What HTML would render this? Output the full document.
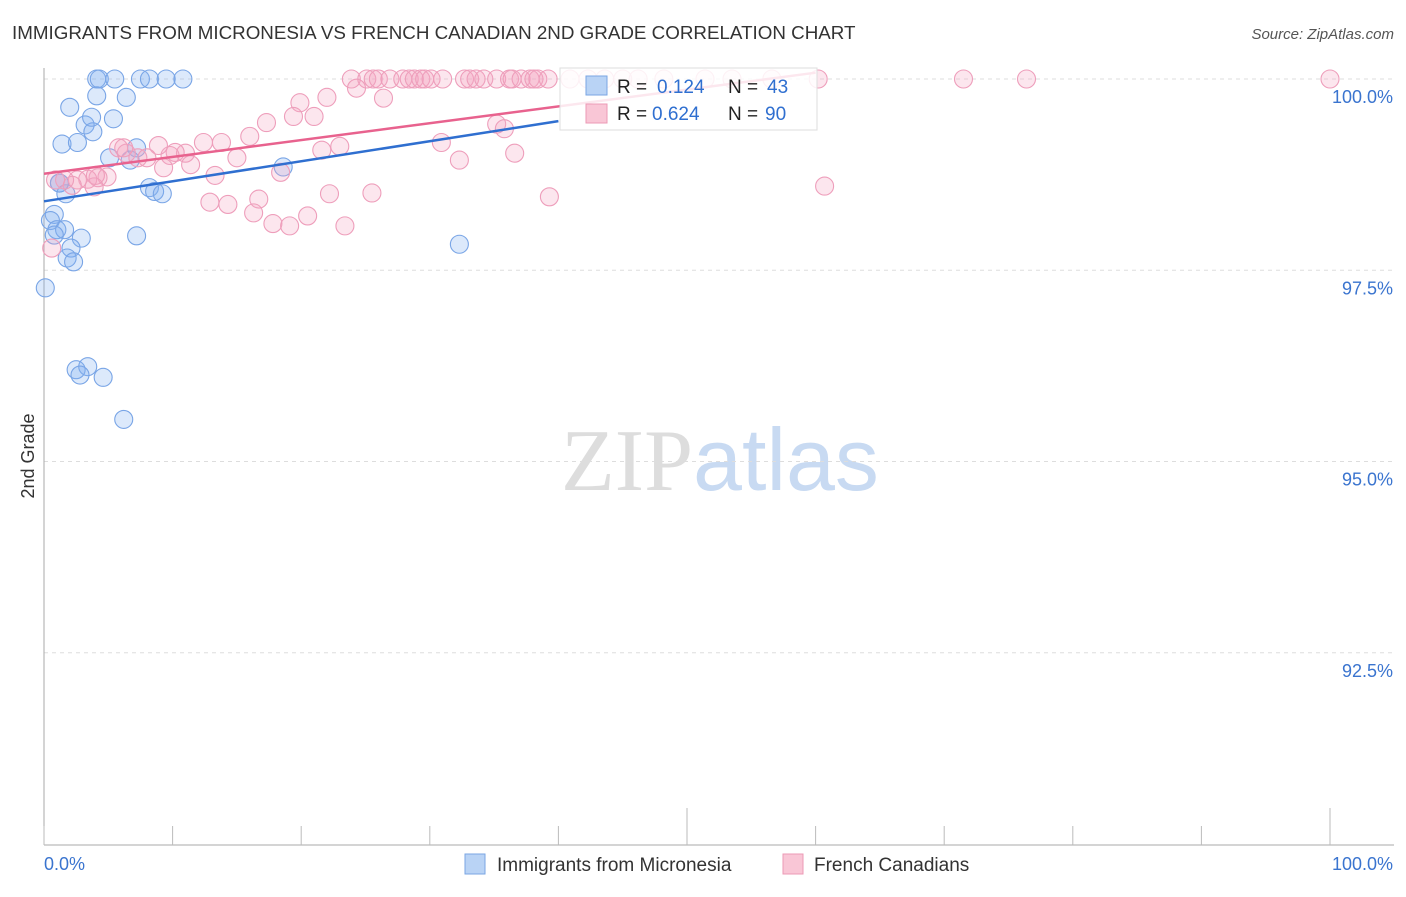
<!DOCTYPE html>
<html><head><meta charset="utf-8"><style>
body{margin:0;background:#fff;font-family:"Liberation Sans",sans-serif;}
svg text{font-family:"Liberation Sans",sans-serif;}
</style></head><body>
<svg id="chart" width="1406" height="892" viewBox="0 0 1406 892" xmlns="http://www.w3.org/2000/svg">
<text x="12" y="39" font-size="18.8" fill="#333">IMMIGRANTS FROM MICRONESIA VS FRENCH CANADIAN 2ND GRADE CORRELATION CHART</text>
<text x="1394" y="39" font-size="15" fill="#555" text-anchor="end" font-style="italic">Source: ZipAtlas.com</text>
<text x="720" y="490" font-size="88" text-anchor="middle"><tspan fill="#ddd" font-family="Liberation Serif">ZIP</tspan><tspan fill="#c8daf2">atlas</tspan></text>
<g id="grid"></g>
<g id="axes"></g>
<g id="blue"></g>
<g id="pink"></g>
<g id="lines"></g>
<g>
<rect x="560" y="68" width="257" height="62" fill="#fff" fill-opacity="0.85" stroke="#ddd"/>
<rect x="586" y="76" width="21" height="19" fill="#b9d3f5" stroke="#7aa6e3"/>
<rect x="586" y="104" width="21" height="19" fill="#f9c6d6" stroke="#ec9ab5"/>
<text x="617" y="93" font-size="19" fill="#222">R = </text><text x="657" y="93" font-size="19" fill="#2f6fd0">0.124</text>
<text x="728" y="93" font-size="19" fill="#222">N = </text><text x="767" y="93" font-size="19" fill="#2f6fd0">43</text>
<text x="617" y="120" font-size="19" fill="#222">R = </text><text x="652" y="120" font-size="19" fill="#2f6fd0">0.624</text>
<text x="728" y="120" font-size="19" fill="#222">N = </text><text x="765" y="120" font-size="19" fill="#2f6fd0">90</text>
</g>
<g>
<rect x="465" y="854" width="20" height="20" fill="#b9d3f5" stroke="#7aa6e3"/>
<text x="497" y="871" font-size="19" fill="#333">Immigrants from Micronesia</text>
<rect x="783" y="854" width="20" height="20" fill="#f9c6d6" stroke="#ec9ab5"/>
<text x="814" y="871" font-size="19" fill="#333">French Canadians</text>
</g>
<text transform="translate(34,456) rotate(-90)" font-size="18" fill="#333" text-anchor="middle">2nd Grade</text>
</svg>
<script>
const xTickLabels=["0.0%","100.0%"];
const yTicks=[100,97.5,95,92.5];
const yTickLabels=["100.0%","97.5%","95.0%","92.5%"];
const blueX=[4.1,4.3,5.5,7.5,8.2,9.5,10.8,4.1,6.4,2.0,5.4,3.2,3.8,1.4,2.6,3.7,7.2,5.1,6.7,18.6,1.2,1.7,8.2,8.6,9.2,0.8,0.5,1.0,1.6,0.8,2.9,7.2,2.1,1.8,2.3,32.3,0.1,2.5,3.4,2.8,4.6,6.2,1.2];
const blueY=[100,100,100,100,100,100,100,99.78,99.76,99.63,99.48,99.4,99.31,99.15,99.17,99.5,99.1,98.97,98.94,98.85,98.64,98.5,98.58,98.53,98.5,98.23,98.15,98.03,98.03,97.96,97.92,97.95,97.79,97.66,97.61,97.84,97.27,96.2,96.24,96.13,96.1,95.55,98.64];
const pinkX=[23.9,25.1,25.6,26.0,26.9,27.9,28.4,28.8,29.3,29.6,30.1,31.0,32.7,33.1,33.6,34.2,35.2,36.2,36.4,37.1,37.8,38.1,38.4,39.2,40.9,42.3,45.0,46.2,51.4,56.6,60.2,71.5,76.4,100,24.3,26.4,19.9,22.0,21.0,19.4,17.3,16.0,13.8,12.4,15.0,11.0,10.2,9.8,8.9,7.3,6.4,5.8,8.0,9.3,11.4,13.3,18.4,21.6,23.0,30.9,32.3,36.6,35.2,35.8,22.2,25.5,39.3,60.7,16.7,12.9,14.3,16.3,17.8,19.1,20.5,23.4,4.9,4.2,3.4,2.6,2.2,3.9,1.6,0.9,0.6,6.2,4.0,43.6,48.2,53.5];
const pinkY=[100,100,100,100,100,100,100,100,100,100,100,100,100,100,100,100,100,100,100,100,100,100,100,100,100,100,100,100,100,100,100,100,100,100,99.88,99.75,99.69,99.76,99.51,99.51,99.43,99.25,99.17,99.17,98.97,99.03,99.04,99.0,99.13,98.97,99.03,99.1,98.97,98.84,98.88,98.74,98.78,99.07,99.12,99.17,98.94,99.03,99.41,99.35,98.5,98.51,98.46,98.6,98.43,98.39,98.36,98.25,98.11,98.08,98.21,98.08,98.72,98.71,98.69,98.68,98.61,98.59,98.68,98.68,97.79,99.1,98.74,100,100,100];
const X0=44,X1=1330,Y100=79,PXPER=76.5;
const sx=v=>X0+(X1-X0)*v/100;
const sy=v=>Y100+(100-v)*PXPER;
const NS="http://www.w3.org/2000/svg";
function mk(tag,attrs,parent){const e=document.createElementNS(NS,tag);for(const k in attrs)e.setAttribute(k,attrs[k]);parent.appendChild(e);return e;}
const grid=document.getElementById('grid'),axes=document.getElementById('axes');
yTicks.forEach((t,i)=>{
 const l=mk('line',{x1:X0,x2:1394,y1:sy(t),y2:sy(t),stroke:'#ddd','stroke-dasharray':'4,4'},grid);
 
 
 const tx=mk('text',{x:1393,y:sy(t)+24,'font-size':18,fill:'#3a74cf','text-anchor':'end'},axes);
 tx.textContent=yTickLabels[i];
 
 
});
mk('line',{x1:X0,x2:X0,y1:68,y2:845,stroke:'#aaa'},axes);
mk('line',{x1:X0,x2:1394,y1:845,y2:845,stroke:'#aaa'},axes);
for(let i=0;i<=10;i++){
 const x=sx(i*10);
 const tk=mk('line',{x1:x,x2:x,y1:(i===5||i===10)?808:826,y2:845,stroke:'#bbb'},axes);
 
 
}
const xl0=mk('text',{x:44,y:870,'font-size':18,fill:'#3a74cf'},axes);xl0.textContent=xTickLabels[0];


const xl1=mk('text',{x:1393,y:870,'font-size':18,fill:'#3a74cf','text-anchor':'end'},axes);xl1.textContent=xTickLabels[1];


function dots(xs,ys,g,fill,stroke,name){
 xs.forEach((v,i)=>{const c=mk('circle',{cx:sx(v),cy:sy(ys[i]),r:9,fill:fill,stroke:stroke,'stroke-width':1.1},g);
 
 });
}
dots(blueX,blueY,document.getElementById('blue'),'rgba(130,175,240,0.28)','#79a5e6','micronesia-point');
dots(pinkX,pinkY,document.getElementById('pink'),'rgba(245,165,195,0.28)','#ee9ebb','french-canadian-point');
function fit(xs,ys){const n=xs.length;let mx=0,my=0;xs.forEach((v,i)=>{mx+=v;my+=ys[i]});mx/=n;my/=n;let a=0,b=0;xs.forEach((v,i)=>{a+=(v-mx)*(ys[i]-my);b+=(v-mx)*(v-mx)});const s=a/b;return [s,my-s*mx];}
const lg=document.getElementById('lines');
function trend(xs,ys,color,xe,name){const [s,c]=fit(xs,ys);
 const l=mk('line',{x1:sx(0),y1:sy(c),x2:sx(xe),y2:sy(c+s*xe),stroke:color,'stroke-width':2.5},lg);
 
 }
trend(blueX,blueY,'#2f6fd0',40,'micronesia-trend-line');
trend(pinkX,pinkY,'#e8628e',60,'french-canadian-trend-line');
</script>
</body></html>
